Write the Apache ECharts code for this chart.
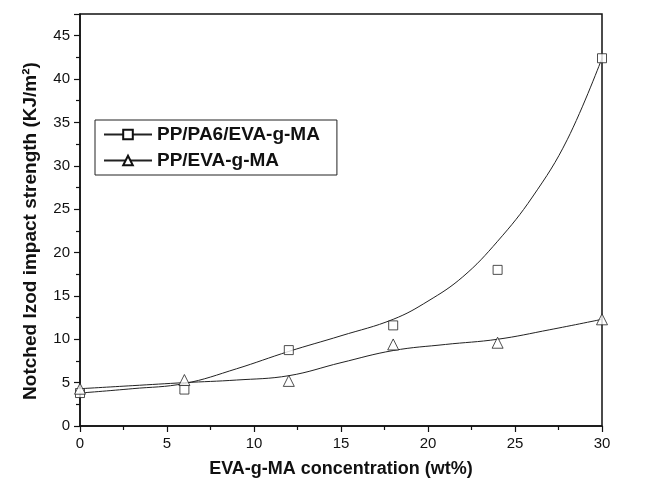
<!DOCTYPE html>
<html>
<head>
<meta charset="utf-8">
<script src="https://cdn.jsdelivr.net/npm/echarts@6/dist/echarts.min.js"></script>
<style>
  html, body { margin: 0; padding: 0; background: #fff; }
  #chart1 { width: 650px; height: 486px; }
</style>
</head>
<body>
<div id="chart1"></div>
<script>
// measured points (wt% EVA-g-MA)
var conc = [0, 6, 12, 18, 24, 30];
var pa6Values = [3.8, 4.2, 8.75, 11.6, 18.0, 42.4];
var evaValues = [4.3, 5.3, 5.2, 9.4, 9.6, 12.3];

// fitted curves
var pa6FitX = [0, 3, 6, 9, 12, 15, 18, 20, 22, 24, 26, 28, 30];
var pa6FitY = [3.8, 4.3, 4.9, 6.6, 8.6, 10.4, 12.3, 14.4, 17.2, 21.3, 26.4, 33.0, 42.4];
var evaFitX = [0, 3, 6, 9, 12, 15, 18, 21, 24, 27, 30];
var evaFitY = [4.3, 4.65, 5.0, 5.3, 5.8, 7.3, 8.7, 9.4, 10.0, 11.1, 12.3];

var seriesNames = ['PP/PA6/EVA-g-MA', 'PP/EVA-g-MA'];

function pairs(xs, ys) {
    var out = [];
    for (var i = 0; i < xs.length; i++) out.push([xs[i], ys[i]]);
    return out;
}

var font = 'Liberation Sans, Arial, sans-serif';

var chart = echarts.init(document.getElementById('chart1'));

var option = {
    backgroundColor: '#fff',
    animation: false,
    textStyle: { fontFamily: font, color: '#111' },
    grid: {
        left: 80, right: 48, top: 14, bottom: 60,
        show: true, borderColor: '#111', borderWidth: 1.5
    },
    legend: {
        orient: 'vertical',
        left: 95, top: 120,
        padding: [5, 17, 5, 8],
        itemGap: 7,
        itemWidth: 48,
        itemHeight: 12,
        borderColor: '#222',
        borderWidth: 1,
        data: seriesNames,
        textStyle: { fontFamily: font, fontWeight: 'bold', fontSize: 19, color: '#111' }
    },
    xAxis: {
        type: 'value',
        min: 0, max: 30, interval: 5,
        name: 'EVA-g-MA concentration (wt%)',
        nameLocation: 'middle',
        nameGap: 34,
        nameTextStyle: { fontFamily: font, fontWeight: 'bold', fontSize: 18, color: '#111' },
        axisLine: { show: true, lineStyle: { color: '#111', width: 1.5 } },
        axisTick: { show: true, inside: false, length: 6, lineStyle: { color: '#111', width: 1.2 } },
        minorTick: { show: true, splitNumber: 2, length: 4, lineStyle: { color: '#111', width: 1.2 } },
        axisLabel: { fontFamily: font, fontSize: 15, color: '#111', margin: 10 },
        splitLine: { show: false }
    },
    yAxis: {
        type: 'value',
        min: 0, max: 47.5, interval: 5,
        name: 'Notched Izod impact strength (KJ/m²)',
        nameLocation: 'middle',
        nameGap: 40,
        nameTextStyle: {
            fontFamily: font, fontWeight: 'bold', fontSize: 19, color: '#111',
            padding: [0, 22, 0, 0]
        },
        axisLine: { show: true, lineStyle: { color: '#111', width: 1.5 } },
        axisTick: { show: true, inside: false, length: 6, lineStyle: { color: '#111', width: 1.2 } },
        minorTick: { show: true, splitNumber: 2, length: 4, lineStyle: { color: '#111', width: 1.2 } },
        axisLabel: {
            fontFamily: font, fontSize: 15, color: '#111', margin: 10,
            formatter: function (v) { return v % 5 === 0 ? String(v) : ''; }
        },
        splitLine: { show: false }
    },
    series: [{
        name: seriesNames[0],
        type: 'line',
        smooth: 0.4,
        symbol: 'emptyRect',
        showSymbol: false,
        color: '#111',
        lineStyle: { color: '#222', width: 1 },
        data: pairs(pa6FitX, pa6FitY),
        z: 2
    }, {
        name: seriesNames[1],
        type: 'line',
        smooth: 0.4,
        symbol: 'emptyTriangle',
        showSymbol: false,
        color: '#111',
        lineStyle: { color: '#222', width: 1 },
        data: pairs(evaFitX, evaFitY),
        z: 2
    }, {
        name: seriesNames[0],
        type: 'scatter',
        symbol: 'rect',
        symbolSize: 9,
        itemStyle: { color: '#fff', borderColor: '#222', borderWidth: 1 },
        data: pairs(conc, pa6Values),
        z: 3
    }, {
        name: seriesNames[1],
        type: 'scatter',
        symbol: 'triangle',
        symbolSize: 11,
        itemStyle: { color: '#fff', borderColor: '#222', borderWidth: 1 },
        data: pairs(conc, evaValues),
        z: 3
    }]
};

chart.setOption(option);
</script>
</body>
</html>
